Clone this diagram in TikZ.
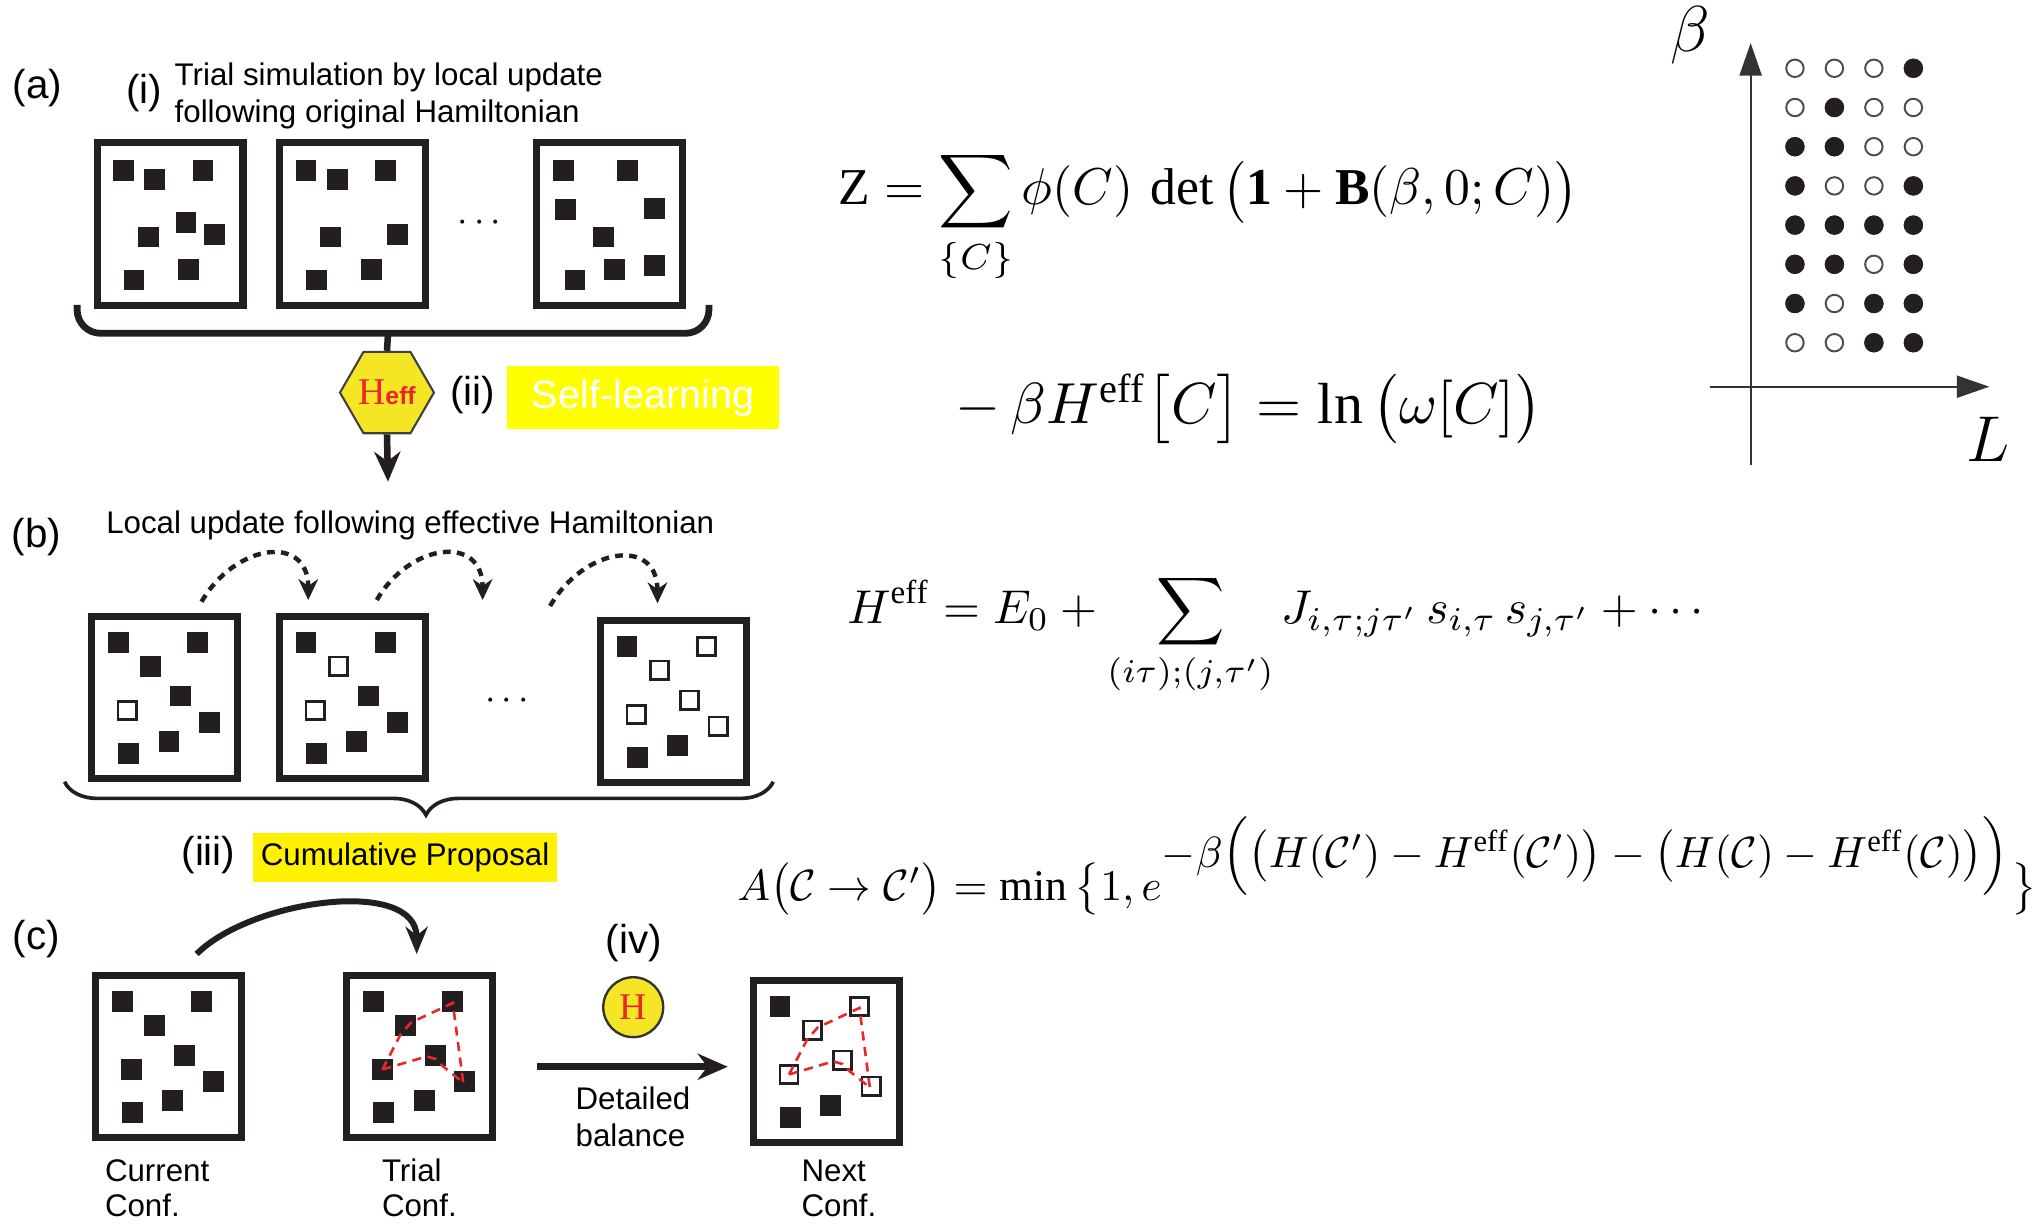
\documentclass[tikz,border=0pt]{standalone}
\usepackage{amsmath,amssymb}
\usepackage{fontspec}
\setmainfont{Liberation Serif}
\setsansfont{Liberation Sans}
\usepackage{xcolor}
\usetikzlibrary{arrows.meta,positioning,shapes.geometric,decorations.pathreplacing,calc}
\definecolor{ink}{HTML}{231F20}
\definecolor{hexfill}{HTML}{F5E625}
\definecolor{markyellow}{HTML}{FFFF00}
\definecolor{propyellow}{HTML}{FFF100}
\definecolor{hred}{HTML}{E8262B}
\tikzset{
  cbox/.style={draw=ink,line width=2.75pt,minimum width=56pt,minimum height=62.25pt,inner sep=0pt},
  fsq/.style={fill=ink},
  osq/.style={draw=ink,line width=1pt},
  lbl/.style={font=\sffamily\fontsize{15.5}{18}\selectfont,inner sep=0pt},
  txt/.style={font=\sffamily\fontsize{12}{14.3}\selectfont,inner sep=0pt,align=left},
  arr/.style={-{Stealth[length=11.5pt,width=10pt]},line width=2.5pt,draw=ink},
  carr/.style={-{Stealth[length=10.5pt,width=8.5pt]},line width=2.3pt,draw=ink},
  hop/.style={-{Stealth[length=8pt,width=7.5pt]},line width=1.7pt,draw=ink,dash pattern=on 3pt off 2.4pt},
  tour/.style={draw=hred,line width=1pt,dash pattern=on 3.5pt off 2.5pt},
  axis/.style={-{Triangle[length=12.5pt,width=8.5pt]},line width=0.7pt,draw=black!80},
  odot/.style={draw=black!70,line width=0.75pt,fill=white},
  eq/.style={anchor=base west,inner sep=0pt},
}

\begin{document}
\begin{tikzpicture}[x=0.5pt,y=-0.5pt,font=\sffamily]
\useasboundingbox (0,0) rectangle (1568,939);

% (a) trial simulation
\node[lbl] (la) at (28.6,67.8) {(a)};
\node[lbl] (li) at (110.7,71.6) {(i)};
\node[txt,anchor=base west] (ti) at (133.7,94.2) {Trial simulation by local update\\following original Hamiltonian};

\begin{scope}[shift={(71.8,106.9)}]
  \node[cbox] (a1) at (58.75,65) {};
  \foreach \px/\py in {15/16,39/23,76/16,63/56,34/67,85/65,23/100,65/92}
    \fill[fsq] (\px,\py) rectangle ++(16,16);
\end{scope}
\begin{scope}[shift={(211.9,106.9)}]
  \node[cbox] (a2) at (58.75,65) {};
  \foreach \px/\py in {15/16,39/23,76/16,34/67,85/65,23/100,65/92}
    \fill[fsq] (\px,\py) rectangle ++(16,16);
\end{scope}
\begin{scope}[shift={(409.3,106.9)}]
  \node[cbox] (a3) at (58.75,65) {};
  \foreach \px/\py in {15/16,64/16,17/46,85/45,46/67,24/100,54/92,85/89}
    \fill[fsq] (\px,\py) rectangle ++(16,16);
\end{scope}
\node[font=\fontsize{14}{14}\selectfont] (adots) at (370.4,171.4) {$\cdots$};

\draw[line width=2.6pt,draw=ink,rounded corners=9pt] (59.2,234) |- (544.1,255.8) -- (544.1,234);
\coordinate (abrace) at (297.8,255.8);
\coordinate (aend) at (297.8,369.7);
\node[regular polygon,regular polygon sides=6,minimum size=34.3pt,inner sep=0pt,
      fill=hexfill,draw=black!75,line width=0.8pt] (heff) at (297,301.3)
  {\textcolor{hred}{{\rmfamily\fontsize{14.5}{15}\selectfont H}{\bfseries\fontsize{9.5}{10}\selectfont eff}}};
\draw[line width=2.5pt,draw=ink] (abrace) -- (heff.north);
\draw[arr] (heff.south) -- (aend);
\node[lbl] (lii) at (362.8,303) {(ii)};
\node[fill=markyellow,text=white,minimum width=104pt,minimum height=24.25pt,inner sep=0pt,
      font=\sffamily\fontsize{15.2}{18}\selectfont] (self) at (493.5,305.3) {Self-learning};

% (b) effective model updates
\node[lbl] (lb) at (28,412.5) {(b)};
\node[txt,anchor=base west] (tb) at (81.2,409.3) {Local update following effective Hamiltonian};

\begin{scope}[shift={(67.7,470.2)}]
  \node[cbox] (b1) at (58.75,65) {};
  \foreach \px/\py in {15/15,76/15,40/33,63/56,85/76,23/100,54/91}
    \fill[fsq] (\px,\py) rectangle ++(16,16);
  \foreach \px/\py in {22/67}
    \draw[osq] (\px+1,\py+1) rectangle ++(14,14);
\end{scope}
\begin{scope}[shift={(211.9,470.2)}]
  \node[cbox] (b2) at (58.75,65) {};
  \foreach \px/\py in {15/15,76/15,63/56,85/76,23/100,54/91}
    \fill[fsq] (\px,\py) rectangle ++(16,16);
  \foreach \px/\py in {40/33,22/67}
    \draw[osq] (\px+1,\py+1) rectangle ++(14,14);
\end{scope}
\begin{scope}[shift={(458.2,473.3)}]
  \node[cbox] (b3) at (58.75,65) {};
  \foreach \px/\py in {15/15,23/100,54/91}
    \fill[fsq] (\px,\py) rectangle ++(16,16);
  \foreach \px/\py in {76/15,40/33,63/56,85/76,22/67}
    \draw[osq] (\px+1,\py+1) rectangle ++(14,14);
\end{scope}
\node[font=\fontsize{14}{14}\selectfont] (bdots) at (391.6,538) {$\cdots$};

\coordinate (h1s) at (154.7,461.8);
\coordinate (h1e) at (236.6,460.5);
\coordinate (h2s) at (289.2,460.5);
\coordinate (h2e) at (370.4,460.5);
\coordinate (h3s) at (422.2,465.1);
\coordinate (h3e) at (504.6,463);
\draw[hop] (h1s) to[out=60,in=90,looseness=1.6] (h1e);
\draw[hop] (h2s) to[out=60,in=90,looseness=1.6] (h2e);
\draw[hop] (h3s) to[out=60,in=90,looseness=1.6] (h3e);

\coordinate (bbl) at (49.5,600);
\coordinate (bbr) at (593.5,600);
\draw[draw=ink,line width=1.4pt,decorate,decoration={brace,mirror,amplitude=12.75pt,aspect=0.51}] (bbl) -- (bbr);
\node[lbl] (liii) at (160,656) {(iii)};
\node[fill=propyellow,minimum width=116.9pt,minimum height=18.6pt,inner sep=0pt,
      font=\sffamily\fontsize{12}{14}\selectfont] (prop) at (310.9,658.1) {Cumulative Proposal};

% (c) accept or reject with the exact model
\node[lbl] (lc) at (28,721) {(c)};
\begin{scope}[shift={(70.7,745.8)}]
  \node[cbox] (c1) at (58.75,65) {};
  \foreach \px/\py in {15/15,76/15,40/33,63/56,85/76,23/100,54/91,22/67}
    \fill[fsq] (\px,\py) rectangle ++(16,16);
\end{scope}
\begin{scope}[shift={(263.5,745.8)}]
  \node[cbox] (c2) at (58.75,65) {};
  \foreach \px/\py in {15/15,76/15,40/33,63/56,85/76,23/100,54/91,22/67}
    \fill[fsq] (\px,\py) rectangle ++(16,16);
  \draw[tour] (30,75) -- (44,48) -- (52,39) -- (84,24) -- (92,85);
  \draw[tour] (30,75) -- (64,65) -- (71,67) -- (77,73) -- (92,85);
\end{scope}
\begin{scope}[shift={(575.6,749.6)}]
  \node[cbox] (c3) at (58.75,65) {};
  \foreach \px/\py in {15/15,23/100,54/91}
    \fill[fsq] (\px,\py) rectangle ++(16,16);
  \foreach \px/\py in {76/15,40/33,63/56,85/76,22/67}
    \draw[osq] (\px+1,\py+1) rectangle ++(14,14);
  \draw[tour] (30,75) -- (44,48) -- (52,39) -- (84,24) -- (92,85);
  \draw[tour] (30,75) -- (64,65) -- (71,67) -- (77,73) -- (92,85);
\end{scope}

\coordinate (cs) at (150.9,732.2);
\coordinate (ce) at (319.8,732.2);
\draw[carr] (cs) to[out=45,in=90,looseness=0.9] (ce);

\node[lbl] (liv) at (486.5,723.4) {(iv)};
\node[circle,minimum size=23pt,inner sep=0pt,fill=hexfill,draw=black!80,line width=0.9pt,
      text=hred,font=\rmfamily\fontsize{14.5}{15}\selectfont] (hcirc) at (486,773) {H};
\coordinate (ds) at (412.1,818.7);
\coordinate (de) at (558.5,818.7);
\draw[arr,line width=2.8pt] (ds) -- (de);
\node[txt,anchor=base west] (tdb) at (441.4,880) {Detailed\\balance};

\node[txt,anchor=base west,font=\sffamily\fontsize{12}{13.45}\selectfont] (tcur) at (80.2,933.8) {Current\\Conf.};
\node[txt,anchor=base west,font=\sffamily\fontsize{12}{13.45}\selectfont] (ttri) at (292.8,933.8) {Trial\\Conf.};
\node[txt,anchor=base west,font=\sffamily\fontsize{12}{13.45}\selectfont] (tnex) at (614.8,933.8) {Next\\Conf.};

% equations
\node[eq] (zeq) at (642.8,157.3) {\resizebox{284pt}{!}{$\displaystyle \mathrm{Z} = \sum_{\{C\}}\phi(C)\,\det\big(\mathbf{1}+\mathbf{B}(\beta,0;C)\big)$}};
\node[eq] (weq) at (733.1,324.9) {\resizebox{224.8pt}{!}{$-\,\beta H^{\mathrm{eff}}\big[C\big] = \ln\big(\omega[C]\big)$}};
\node[eq] (heq) at (650,478.4) {\resizebox{331.6pt}{!}{$\displaystyle H^{\mathrm{eff}} = E_0 + \sum_{(i\tau);(j,\tau')} J_{i,\tau;j\tau'}\,s_{i,\tau}\,s_{j,\tau'} + \cdots$}};
\node[eq] (aeq) at (565.6,690.8) {\resizebox{498.5pt}{!}{$A\big(\mathcal{C}\to\mathcal{C}'\big) = \min\big\{1, e^{\textstyle -\beta\Big(\big(H(\mathcal{C}')-H^{\mathrm{eff}}(\mathcal{C}')\big)-\big(H(\mathcal{C})-H^{\mathrm{eff}}(\mathcal{C})\big)\Big)}\big\}$}};

% lattice of auxiliary fields
\coordinate (ax0) at (1343.6,357);
\coordinate (axt) at (1343.6,33);
\coordinate (axl) at (1312.4,296.8);
\coordinate (axr) at (1526.8,296.8);
\draw[axis] (ax0) -- (axt);
\draw[axis] (axl) -- (axr);
\node[font=\fontsize{24}{24}\selectfont] (beta) at (1297,27) {$\beta$};
\node[font=\fontsize{26}{26}\selectfont] (ell) at (1525.5,337) {$L$};
\foreach \r in {1,...,8}
  \foreach \c in {1,...,4}
    \draw[odot] ({1377.6+(\c-1)*30.3},{52.4+(\r-1)*30.09}) circle[radius=3.35pt];
\foreach \c/\r in {4/1,2/2,1/3,2/3,1/4,4/4,1/5,2/5,3/5,4/5,1/6,2/6,4/6,1/7,3/7,4/7,3/8,4/8}
  \fill[ink] ({1377.6+(\c-1)*30.3},{52.4+(\r-1)*30.09}) circle[radius=3.7pt];
\end{tikzpicture}
\end{document}
